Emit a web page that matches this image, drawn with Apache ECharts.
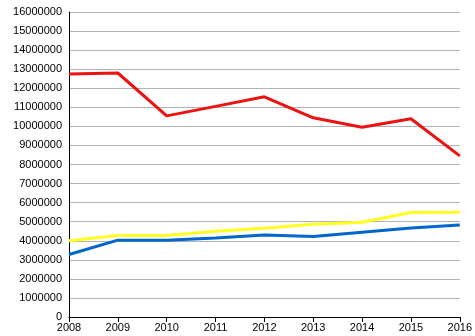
<!DOCTYPE html>
<html>
<head>
<meta charset="utf-8">
<script src="https://cdn.jsdelivr.net/npm/echarts@6/dist/echarts.min.js"></script>
<style>
  html, body { margin: 0; padding: 0; background: #fff; }
  #chart { width: 475px; height: 336px; }
</style>
</head>
<body>
<div id="chart"></div>
<script>
// Years on the category axis
const years = ['2008', '2009', '2010', '2011', '2012', '2013', '2014', '2015', '2016'];

// Series values
const redSeries = [12750000, 12800000, 10550000, 11050000, 11550000, 10450000, 9950000, 10400000, 8450000];
const yellowSeries = [4000000, 4280000, 4270000, 4500000, 4650000, 4870000, 4970000, 5480000, 5500000];
const blueSeries = [3280000, 4030000, 4030000, 4150000, 4300000, 4220000, 4450000, 4670000, 4820000];

const chart = echarts.init(document.getElementById('chart'), null, { renderer: 'canvas' });

const labelFont = { color: '#000', fontSize: 11, fontFamily: 'Liberation Sans, Arial, sans-serif' };

function lineSeries(data, color) {
  return {
    type: 'line',
    data: data,
    symbol: 'none',
    lineStyle: { color: color, width: 3 },
    itemStyle: { color: color },
    animation: false
  };
}

chart.setOption({
  animation: false,
  backgroundColor: '#ffffff',
  grid: { left: 69, right: 8, top: 12, bottom: 19, containLabel: false },
  xAxis: {
    type: 'category',
    data: years,
    boundaryGap: false,
    axisLine: { lineStyle: { color: '#000', width: 1 } },
    axisTick: { show: true, length: 5, lineStyle: { color: '#000' } },
    axisLabel: Object.assign({ margin: 5, interval: 0 }, labelFont),
    splitLine: { show: false }
  },
  yAxis: {
    type: 'value',
    min: 0,
    max: 16000000,
    interval: 1000000,
    axisLine: { show: true, lineStyle: { color: '#000', width: 1 } },
    axisTick: { show: false },
    axisLabel: Object.assign({ margin: 7, formatter: v => String(v) }, labelFont),
    splitLine: { show: true, lineStyle: { color: '#b3b3b3', width: 1 } }
  },
  series: [
    lineSeries(redSeries, '#ee1111'),
    lineSeries(yellowSeries, '#ffff22'),
    lineSeries(blueSeries, '#0066cc')
  ]
});
</script>
</body>
</html>
